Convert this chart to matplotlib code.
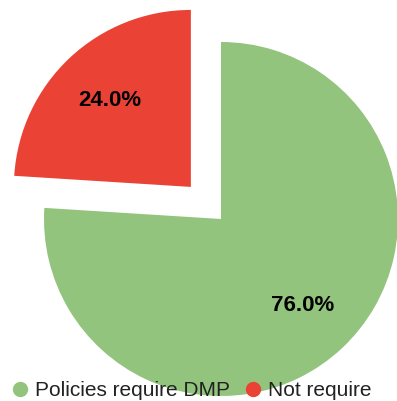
import matplotlib
matplotlib.use("Agg")
import matplotlib.pyplot as plt
from matplotlib.lines import Line2D

# data
labels = ["Policies require DMP", "Not require"]
shares = [76.0, 24.0]
colors = ["#93c47d", "#ea4335"]

W, H = 397, 401
R = 177
explode = [0, 44]  # pie() takes explode in data units here (pixels)

fig = plt.figure(figsize=(W / 100, H / 100), dpi=100)
ax = fig.add_axes([0, 0, 1, 1])

wedges, texts, autotexts = ax.pie(
    shares, colors=colors, explode=explode, startangle=90, counterclock=False,
    center=(221, H - 219), radius=R, autopct="%.1f%%", pctdistance=0.67,
    textprops=dict(fontsize=16, fontweight="bold", color="black", family="Liberation Sans"),
    wedgeprops=dict(linewidth=0), frame=True)
ax.set_xlim(0, W)
ax.set_ylim(0, H)
ax.set_aspect("equal")
ax.axis("off")

handles = [Line2D([], [], marker="o", ls="", color=c, markersize=10) for c in colors]
leg = fig.legend(handles, labels, loc="center", bbox_to_anchor=(190.5 / W, 1 - 391 / H),
                 ncol=2, frameon=False, handletextpad=0.2, columnspacing=0.6,
                 handlelength=1.0, borderpad=0,
                 prop=dict(family="Liberation Sans", size=15))
for t in leg.get_texts():
    t.set_color("#222222")

fig.savefig("out.png", dpi=100)
